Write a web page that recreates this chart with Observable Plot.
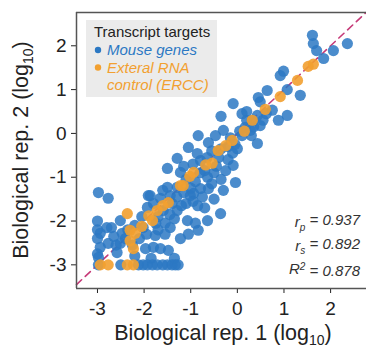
<!DOCTYPE html>
<html><head><meta charset="utf-8">
<script src="https://cdn.jsdelivr.net/npm/d3@7"></script>
<script src="https://cdn.jsdelivr.net/npm/@observablehq/plot@0.6"></script>
<style>
html,body{margin:0;padding:0;background:#fff;}
svg{display:block;}
</style></head><body><div id="chart"></div>
<script>
// ---- data (log10 values) ----
const mouseGenes = [
  [2.36,2.05],[2.06,1.89],[1.61,2.24],[1.63,2.05],[1.70,1.89],[1.85,1.71],
  [0.92,1.32],[0.99,1.42],[1.07,1.00],[1.35,0.87],[0.64,0.98],[0.45,0.82],[0.49,0.72],
  [-0.09,0.68],[0.75,0.53],[1.07,0.41],[0.88,0.30],[0.43,0.41],[0.32,0.30],[-0.35,0.39],
  [0.28,0.07],[0.49,0.18],[0.17,0.14],[0.43,-0.23],[0.62,0.45],[0.20,0.30],[0.05,0.05],[0.30,-0.05],
  [-0.84,-0.05],[-1.05,-0.32],[-1.29,-0.57],[-1.50,-0.80],[-1.22,-0.89],[-0.86,-0.46],[-0.79,-0.62],
  [-0.62,-0.21],[-0.47,-0.05],[-0.30,0.07],[-0.09,-0.73],[-0.04,-1.12],[-0.30,-1.30],[-0.64,-1.00],
  [-0.79,-1.26],[-1.01,-1.42],[-1.50,-1.23],[-1.44,-1.42],[-1.87,-1.42],[-2.98,-1.35],[-2.77,-1.48],
  [-0.20,-0.30],[-0.10,-0.45],[-0.40,-0.55],[-0.55,-0.40],[-0.70,-0.85],[-0.95,-0.70],[-1.10,-1.05],
  [-0.50,-0.90],[0.00,-0.35],[-0.25,-0.85],[-1.15,-0.75],[-0.90,-1.10],[-0.35,-1.05],[-0.15,-0.10],
  [-1.91,-1.42],[-1.65,-1.48],[-1.29,-1.23],[-0.94,-1.37],[-0.62,-1.26],
  [-1.93,-1.69],[-1.59,-1.76],[-1.29,-1.76],[-1.07,-1.99],[-0.90,-2.05],[-0.64,-1.99],[-0.84,-2.21],
  [-1.22,-2.40],[-1.44,-2.15],[-1.76,-2.33],[-1.97,-2.63],[-1.48,-2.67],[-1.65,-2.63],[-1.80,-2.60],
  [-2.02,-2.15],[-2.51,-1.99],[-2.47,-2.28],[-2.51,-2.51],[-2.77,-2.51],[-2.94,-2.60],[-2.94,-2.28],
  [-2.58,-2.72],[-2.98,-2.83],[-0.36,-1.83],
  [-1.35,-1.95],[-1.55,-2.05],[-1.70,-2.20],[-2.10,-2.40],[-2.25,-2.55],[-1.10,-1.60],[-0.85,-1.65],
  [-1.40,-1.60],[-2.35,-2.20],[-2.65,-2.35],[-2.20,-2.80],[-1.85,-2.85],[-1.35,-2.85],[-1.05,-2.30],
  [-1.80,-1.60],[-1.70,-1.90],[-1.60,-1.30],[-1.45,-1.85],[-1.30,-1.45],[-1.20,-1.65],[-1.15,-1.35],
  [-1.00,-1.25],[-0.95,-1.55],[-0.80,-0.90],[-0.75,-1.45],[-0.65,-0.55],[-0.55,-1.15],[-0.45,-0.75],
  [-0.35,-0.35],[-0.20,-0.60],[-0.05,-0.25],[0.10,-0.05],[0.20,0.50],[0.35,0.15],[-2.20,-2.10],
  [-2.05,-1.90],[-1.95,-2.30],[-2.40,-2.40],[-2.60,-2.55],[-2.70,-2.15],[-1.75,-2.05],[-1.55,-2.30],
  [-0.70,-1.70],[-0.50,-1.50],[0.55,0.30],[0.10,0.45],
  [-3.00,-2.00],[-3.00,-2.20],[-3.00,-2.40],[-3.00,-2.75],[-2.80,-2.15],
  [-2.98,-3.00],[-2.50,-3.00],[-2.12,-3.00],[-2.02,-3.00],[-1.93,-3.00],[-1.82,-3.00],[-1.72,-3.00],
  [-1.60,-3.00],[-1.50,-3.00],[-1.40,-3.00],[-1.33,-3.00],[-1.27,-3.00]
];
const erccSpikeIns = [
  [1.52,1.53],[1.63,1.58],[1.29,1.21],[0.92,0.84],[0.60,0.55],[0.32,0.30],[0.15,0.05],
  [-0.11,-0.16],[-0.25,-0.28],[-0.41,-0.39],[-0.54,-0.68],[-0.68,-0.72],[-0.94,-0.89],[-1.02,-0.98],
  [-1.22,-1.19],[-1.16,-1.19],[-1.48,-1.58],[-1.60,-1.65],[-1.72,-1.76],[-1.82,-1.99],[-1.90,-1.88],
  [-2.05,-2.12],[-2.36,-1.83],[-2.30,-2.21],[-2.19,-2.28],[-2.30,-2.45],[-2.23,-2.63],
  [-2.94,-3.00],[-2.77,-3.00],[-2.36,-3.00],[-2.23,-3.00]
];
const markerPoint = [[-1.18,-2.15]];
const xTicks = [-3,-2,-1,0,1,2];
const yTicks = [-3,-2,-1,0,1,2];
const xDomain = [-3.45, 2.77];
const yDomain = [-3.54, 2.76];
const legendTitle = "Transcript targets";
const legendItems = [
  {lines:["Mouse genes"], color:"#2b78c3"},
  {lines:["Exteral RNA","control (ERCC)"], color:"#f2a030"}
];
const statsRows = [
  {base:"r", sub:"p", sup:null, value:"0.937"},
  {base:"r", sub:"s", sup:null, value:"0.892"},
  {base:"R", sub:null, sup:"2", value:"0.878"}
];

const rows = a => a.map(([x,y]) => ({x,y}));
const diag = [{x:xDomain[0], y:xDomain[0]}, {x:yDomain[1], y:yDomain[1]}];
const FONT = "'Liberation Sans', Arial, Helvetica, sans-serif";

const svg = Plot.plot({
  width: 366, height: 356,
  marginLeft: 76, marginTop: 12, marginRight: 0, marginBottom: 68,
  style: {fontFamily: FONT, fontSize: "19px", color: "#222", background: "#fff", overflow: "visible"},
  x: {domain: xDomain, ticks: xTicks, tickFormat: d => String(d), tickSize: 5, tickPadding: 8, label: null},
  y: {domain: yDomain, ticks: yTicks, tickFormat: d => String(d), tickSize: 5, tickPadding: 5, label: null},
  marks: [
    Plot.line(diag, {x:"x", y:"y", stroke:"#c63a78", strokeWidth:1.6, strokeDasharray:"7,5"}),
    Plot.dot(rows(mouseGenes), {x:"x", y:"y", r:5.6, fill:"#2b78c3", fillOpacity:0.85, stroke:"none"}),
    Plot.dot(rows(erccSpikeIns), {x:"x", y:"y", r:5.6, fill:"#f2a030", fillOpacity:0.9, stroke:"none"}),
    Plot.dot(rows(markerPoint), {x:"x", y:"y", symbol:"plus", r:2.2, fill:"#000", stroke:"none"}),
    Plot.ruleX([xDomain[0]], {stroke:"#555", strokeWidth:1.5}),
    Plot.ruleY([yDomain[0], yDomain[1]], {stroke:"#555", strokeWidth:1.5})
  ]
});
document.getElementById("chart").appendChild(svg);

const s = d3.select(svg);
// axis labels with subscripts
function axisLabel(g, txt) {
  const t = g.append("text").attr("font-family", FONT).attr("font-size", 21.5).attr("fill", "#222")
    .attr("text-anchor", "middle");
  t.append("tspan").text(txt + " (log");
  t.append("tspan").attr("font-size", 14).attr("dy", "0.35em").text("10");
  t.append("tspan").attr("dy", "-0.25em").text(")");
  return t;
}
axisLabel(s.append("g").attr("transform", "translate(223,340)"), "Biological rep. 1");
axisLabel(s.append("g").attr("transform", "translate(28,150) rotate(-90)"), "Biological rep. 2");

// legend
const lg = s.append("g").attr("text-anchor", "start");
lg.append("rect").attr("x", 86).attr("y", 20).attr("width", 131).attr("height", 77).attr("fill", "#ebebeb");
lg.append("text").attr("x", 94).attr("y", 37).attr("text-anchor", "start").attr("font-family", FONT).attr("font-size", 15)
  .attr("fill", "#222").text(legendTitle);
let ly = 55;
legendItems.forEach(item => {
  lg.append("circle").attr("cx", 98).attr("cy", ly - 5).attr("r", 3.2).attr("fill", item.color);
  item.lines.forEach(line => {
    lg.append("text").attr("x", 107).attr("y", ly).attr("text-anchor", "start").attr("font-family", FONT).attr("font-size", 15)
      .attr("font-style", "italic").attr("fill", item.color).text(line);
    ly += 17.5;
  });
});

// stats
statsRows.forEach((r, i) => {
  const t = s.append("text").attr("x", 360).attr("y", 227 + i * 23.5).attr("text-anchor", "end")
    .attr("font-family", FONT).attr("font-size", 15).attr("font-style", "italic").attr("fill", "#333");
  t.append("tspan").text(r.base);
  if (r.sub) {
    t.append("tspan").attr("font-size", 10).attr("dy", "0.35em").text(r.sub);
    t.append("tspan").attr("dy", "-0.35em").text(" = " + r.value);
  } else {
    t.append("tspan").attr("font-size", 10).attr("dy", "-0.45em").text(r.sup);
    t.append("tspan").attr("dy", "0.45em").text(" = " + r.value);
  }
});
</script></body></html>
